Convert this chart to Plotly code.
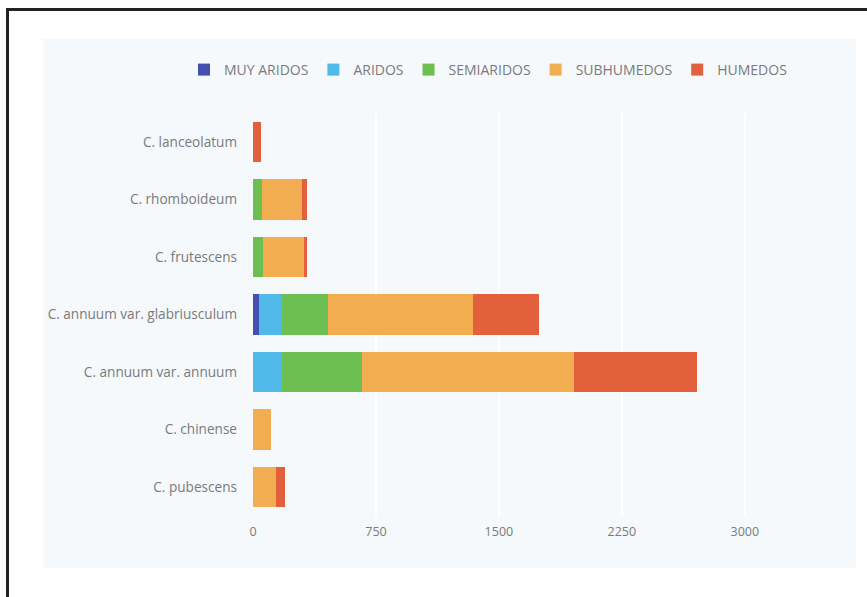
import plotly.graph_objects as go

categories = ["C. lanceolatum", "C. rhomboideum", "C. frutescens",
              "C. annuum var. glabriusculum", "C. annuum var. annuum",
              "C. chinense", "C. pubescens"]
series_names = ["MUY ARIDOS", "ARIDOS", "SEMIARIDOS", "SUBHUMEDOS", "HUMEDOS"]
muy_aridos = [0, 0, 0, 36, 0, 0, 0]
aridos = [0, 0, 0, 140, 176, 0, 0]
semiaridos = [0, 55, 60, 280, 486, 0, 0]
subhumedos = [0, 243, 250, 886, 1299, 110, 140]
humedos = [50, 30, 22, 405, 750, 0, 55]
tick_vals = [0, 750, 1500, 2250, 3000]
colors = ["#4350b0", "#4fb9ea", "#6cbf50", "#f1ad4f", "#e3603d"]

W, H = 867, 597
L, R, T, B = 253, 73, 113, 81
pw, ph = W - L - R, H - T - B

def px(x):
    return (x - L) / pw

def py(y):
    return (H - B - y) / ph

fig = go.Figure()
for name, vals, col in zip(series_names, [muy_aridos, aridos, semiaridos, subhumedos, humedos], colors):
    fig.add_trace(go.Bar(y=categories, x=vals, name=name, orientation="h",
                         marker=dict(color=col, line=dict(width=0))))

font_fam = "Open Sans, Arial, sans-serif"
fig.update_layout(
    width=W, height=H, barmode="stack", bargap=0.3,
    margin=dict(l=L, r=R, t=T, b=B, autoexpand=False),
    paper_bgcolor="white", plot_bgcolor="rgba(0,0,0,0)",
    font=dict(family=font_fam, size=12, color="#7a7a7a"),
    legend=dict(orientation="h", x=px(184), y=py(70), yanchor="middle", xanchor="left",
                font=dict(size=14, color="#7a7a7a"), bgcolor="rgba(0,0,0,0)",
                traceorder="normal"),
    xaxis=dict(range=[0, 3300], tickvals=tick_vals, showgrid=True, gridcolor="#ffffff",
               gridwidth=2, zeroline=False, showline=False, ticks="",
               tickfont=dict(size=12.5), ticklabelstandoff=6),
    yaxis=dict(categoryorder="array", categoryarray=categories, autorange="reversed",
               showgrid=False, zeroline=False, showline=False, ticks="",
               ticklabelstandoff=15, tickfont=dict(size=13.6)),
    shapes=[
        dict(type="rect", xref="paper", yref="paper", x0=px(43), x1=px(856),
             y0=py(568), y1=py(39), fillcolor="#f5f9fc", line=dict(width=0), layer="below"),
        dict(type="line", xref="paper", yref="paper", x0=px(6), x1=px(870),
             y0=py(9.5), y1=py(9.5), line=dict(color="#222222", width=3)),
        dict(type="line", xref="paper", yref="paper", x0=px(7.5), x1=px(7.5),
             y0=py(8), y1=py(600), line=dict(color="#222222", width=3)),
    ],
)

fig.write_html("out.html")
